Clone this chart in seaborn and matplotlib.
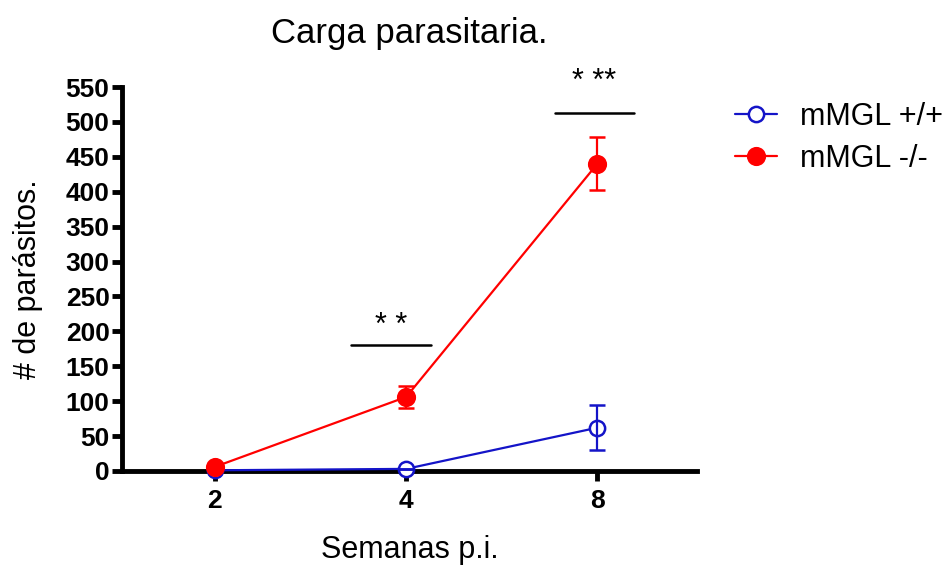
import matplotlib
matplotlib.use("Agg")
import matplotlib.pyplot as plt
import seaborn as sns
import pandas as pd

# Weeks post-infection and parasite counts (mean ± SEM)
semanas = ["2", "4", "8"]
wt_mean = [1, 3, 62]
wt_sem = [0, 0, 32]
ko_mean = [6, 106, 440]
ko_sem = [0, 16, 38]

# Significance brackets: span in x positions, bar height and star height (data units)
sig_labels = ["* *", "* **"]
sig_spans = [(0.71, 1.13), (1.78, 2.19)]
sig_heights = [180, 513]
sig_text_heights = [207, 557]

sns.set_theme(style="ticks")
plt.rcParams["font.family"] = ["Liberation Sans", "DejaVu Sans"]
plt.rcParams["text.color"] = "black"
plt.rcParams["axes.labelcolor"] = "black"
plt.rcParams["xtick.color"] = "black"
plt.rcParams["ytick.color"] = "black"

df = pd.DataFrame({
    "pos": list(range(len(semanas))) * 2,
    "mean": wt_mean + ko_mean,
    "sem": wt_sem + ko_sem,
    "grupo": ["mMGL +/+"] * 3 + ["mMGL -/-"] * 3,
})

blue = "#1414c8"
red = "#ff0000"

fig = plt.figure(figsize=(9.48, 5.65), dpi=100)
ax = fig.add_axes([0.1287, 0.1664, 0.6063, 0.6796])

styles = {
    "mMGL +/+": dict(color=blue, mfc="white", ms=11, zorder=3),
    "mMGL -/-": dict(color=red, mfc=red, ms=12, zorder=4),
}
for name, sub in df.groupby("grupo", sort=False):
    st = styles[name]
    sns.lineplot(data=sub, x="pos", y="mean", ax=ax, color=st["color"], lw=1.6,
                 marker="o", markersize=st["ms"], markerfacecolor=st["mfc"],
                 markeredgecolor=st["color"], markeredgewidth=1.8,
                 label=name, zorder=st["zorder"], clip_on=False)
    ax.errorbar(sub["pos"], sub["mean"], yerr=sub["sem"], fmt="none",
                ecolor=st["color"], elinewidth=1.6, capsize=6, capthick=1.8,
                zorder=st["zorder"], clip_on=False)

for (x0, x1), h, th, lab in zip(sig_spans, sig_heights, sig_text_heights, sig_labels):
    ax.plot([x0, x1], [h, h], color="black", lw=1.8, clip_on=False)
    ax.text((x0 + x1) / 2, th, lab, ha="center", va="center",
            fontsize=22, color="black", clip_on=False)

ax.set_xlim(-0.486, 2.52)
ax.set_ylim(0, 550)
ax.set_yticks(range(0, 551, 50))
ax.set_xticks(range(len(semanas)))
ax.set_xticklabels(semanas)
for lab in ax.get_xticklabels() + ax.get_yticklabels():
    lab.set_fontweight("bold")
    lab.set_fontsize(19)

sns.despine(ax=ax)
for s in ["left", "bottom"]:
    ax.spines[s].set_linewidth(3.5)
    ax.spines[s].set_color("black")
ax.tick_params(axis="both", width=3.5, length=7, color="black", pad=2)
ax.tick_params(axis="x", pad=6)

ax.set_xlabel("Semanas p.i.", fontsize=22, labelpad=16)
ax.set_ylabel("# de parásitos.", fontsize=22, labelpad=16)
ax.set_title("Carga parasitaria.", fontsize=25, pad=32)

ax.legend(loc="upper left", bbox_to_anchor=(1.066, 0.962), frameon=False,
          fontsize=22, handlelength=1.4, handletextpad=0.75,
          labelspacing=0.4, borderaxespad=0, borderpad=0)

fig.savefig("out.png", dpi=100)
